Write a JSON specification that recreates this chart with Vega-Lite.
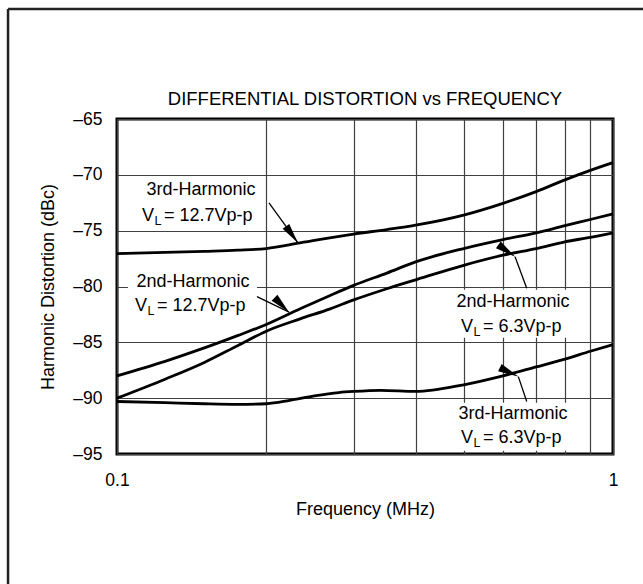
{
  "$schema": "https://vega.github.io/schema/vega-lite/v6.json",
  "width": 496,
  "height": 335,
  "autosize": {"type": "none"},
  "padding": {"left": 117, "top": 119, "right": 30, "bottom": 130},
  "background": "white",
  "title": {
    "text": "DIFFERENTIAL DISTORTION vs FREQUENCY",
    "fontSize": 18.5,
    "fontWeight": "normal",
    "font": "Liberation Sans",
    "color": "black",
    "anchor": "middle",
    "frame": "group",
    "baseline": "alphabetic",
    "offset": 0,
    "dy": 116
  },
  "config": {
    "font": "Liberation Sans",
    "view": {"stroke": "black", "strokeWidth": 3}
  },
  "datasets": {
    "curves": [
      {"s": "A", "f": 0.1, "db": -77.05}, {"s": "A", "f": 0.125, "db": -76.95}, {"s": "A", "f": 0.15, "db": -76.85},
      {"s": "A", "f": 0.175, "db": -76.75}, {"s": "A", "f": 0.2, "db": -76.6}, {"s": "A", "f": 0.234, "db": -76.1},
      {"s": "A", "f": 0.3, "db": -75.3}, {"s": "A", "f": 0.35, "db": -74.9}, {"s": "A", "f": 0.4, "db": -74.5},
      {"s": "A", "f": 0.5, "db": -73.6}, {"s": "A", "f": 0.6, "db": -72.55}, {"s": "A", "f": 0.7, "db": -71.5},
      {"s": "A", "f": 0.8, "db": -70.45}, {"s": "A", "f": 0.9, "db": -69.6}, {"s": "A", "f": 1.0, "db": -68.9},
      {"s": "B", "f": 0.1, "db": -88.0}, {"s": "B", "f": 0.125, "db": -86.7}, {"s": "B", "f": 0.15, "db": -85.5},
      {"s": "B", "f": 0.175, "db": -84.4}, {"s": "B", "f": 0.2, "db": -83.4}, {"s": "B", "f": 0.234, "db": -82.0},
      {"s": "B", "f": 0.269, "db": -80.8}, {"s": "B", "f": 0.3, "db": -79.9}, {"s": "B", "f": 0.35, "db": -78.8},
      {"s": "B", "f": 0.4, "db": -77.8}, {"s": "B", "f": 0.5, "db": -76.6}, {"s": "B", "f": 0.6, "db": -75.8},
      {"s": "B", "f": 0.7, "db": -75.2}, {"s": "B", "f": 0.8, "db": -74.55}, {"s": "B", "f": 0.9, "db": -74.0},
      {"s": "B", "f": 1.0, "db": -73.5},
      {"s": "C", "f": 0.1, "db": -90.0}, {"s": "C", "f": 0.125, "db": -88.3}, {"s": "C", "f": 0.15, "db": -86.8},
      {"s": "C", "f": 0.175, "db": -85.3}, {"s": "C", "f": 0.2, "db": -84.0}, {"s": "C", "f": 0.234, "db": -82.9},
      {"s": "C", "f": 0.269, "db": -82.0}, {"s": "C", "f": 0.3, "db": -81.2}, {"s": "C", "f": 0.35, "db": -80.2},
      {"s": "C", "f": 0.4, "db": -79.4}, {"s": "C", "f": 0.5, "db": -78.1}, {"s": "C", "f": 0.6, "db": -77.2},
      {"s": "C", "f": 0.7, "db": -76.6}, {"s": "C", "f": 0.8, "db": -76.0}, {"s": "C", "f": 0.9, "db": -75.6},
      {"s": "C", "f": 1.0, "db": -75.2},
      {"s": "D", "f": 0.1, "db": -90.3}, {"s": "D", "f": 0.125, "db": -90.4}, {"s": "D", "f": 0.15, "db": -90.5},
      {"s": "D", "f": 0.175, "db": -90.55}, {"s": "D", "f": 0.2, "db": -90.5}, {"s": "D", "f": 0.223, "db": -90.2},
      {"s": "D", "f": 0.25, "db": -89.8}, {"s": "D", "f": 0.28, "db": -89.5}, {"s": "D", "f": 0.3, "db": -89.4},
      {"s": "D", "f": 0.34, "db": -89.3}, {"s": "D", "f": 0.4, "db": -89.4}, {"s": "D", "f": 0.5, "db": -88.8},
      {"s": "D", "f": 0.6, "db": -88.0}, {"s": "D", "f": 0.7, "db": -87.2}, {"s": "D", "f": 0.8, "db": -86.5},
      {"s": "D", "f": 0.9, "db": -85.8}, {"s": "D", "f": 1.0, "db": -85.2}
    ],
    "masks": [
      {"f": 0.1052, "f2": 0.1915, "db": -79.3, "db2": -82.6},
      {"f": 0.4736, "f2": 0.8266, "db": -80.3, "db2": -84.6},
      {"f": 0.4736, "f2": 0.8266, "db": -90.4, "db2": -94.7}
    ],
    "frame": [
      {"f": 0.0603, "f2": 0.0603, "db": -55.15, "db2": -107.5},
      {"f": 0.0603, "f2": 1.2, "db": -55.15, "db2": -55.15}
    ],
    "arrows": [
      {"id": "a1", "f": 0.2317, "db": -76.1, "f2": 0.2025, "db2": -72.52},
      {"id": "a2", "f": 0.2223, "db": -82.3, "f2": 0.1915, "db2": -80.9},
      {"id": "a3", "f": 0.6346, "db": -77.33, "f2": 0.67, "db2": -80.16},
      {"id": "a4", "f": 0.6443, "db": -88.07, "f2": 0.67, "db2": -90.3}
    ],
    "labels1": [
      {"f": 0.1477, "db": -71.8, "t": "3rd-Harmonic"},
      {"f": 0.1423, "db": -80.01, "t": "2nd-Harmonic"},
      {"f": 0.6286, "db": -81.86, "t": "2nd-Harmonic"},
      {"f": 0.6286, "db": -91.88, "t": "3rd-Harmonic"}
    ],
    "labels2": [
      {"f": 0.1123, "db": -74.13, "post": "= 12.7Vp-p"},
      {"f": 0.1087, "db": -82.23, "post": "= 12.7Vp-p"},
      {"f": 0.4937, "db": -84.04, "post": "= 6.3Vp-p"},
      {"f": 0.4937, "db": -94.03, "post": "= 6.3Vp-p"}
    ]
  },
  "encoding": {
    "x": {
      "field": "f",
      "type": "quantitative",
      "scale": {"type": "log", "domain": [0.1, 1], "nice": false},
      "axis": {
        "title": "Frequency (MHz)",
        "values": [0.1, 0.2, 0.3, 0.4, 0.5, 0.6, 0.7, 0.8, 0.9, 1],
        "labelExpr": "datum.value == 0.1 ? '0.1' : (datum.value == 1 ? '1' : '')",
        "grid": true,
        "gridColor": "#404040",
        "gridWidth": 1.2,
        "ticks": false,
        "tickSize": 0,
        "domain": false,
        "labelFontSize": 17.5,
        "labelColor": "black",
        "labelPadding": 17,
        "labelFont": "Liberation Sans",
        "labelOverlap": false,
        "labelFlush": false,
        "titleFont": "Liberation Sans",
        "titleFontSize": 18,
        "titleFontWeight": "normal",
        "titleColor": "black",
        "titlePadding": 12
      }
    },
    "y": {
      "field": "db",
      "type": "quantitative",
      "scale": {"domain": [-95, -65], "nice": false, "zero": false},
      "axis": {
        "title": "Harmonic Distortion (dBc)",
        "values": [-95, -90, -85, -80, -75, -70, -65],
        "labelExpr": "datum.value < 0 ? '–' + abs(datum.value) : datum.label",
        "grid": true,
        "gridColor": "#404040",
        "gridWidth": 1.2,
        "ticks": false,
        "tickSize": 0,
        "domain": false,
        "labelFontSize": 17.5,
        "labelColor": "black",
        "labelPadding": 15,
        "labelFont": "Liberation Sans",
        "labelOverlap": false,
        "labelFlush": false,
        "titleFont": "Liberation Sans",
        "titleFontSize": 18,
        "titleFontWeight": "normal",
        "titleColor": "black",
        "titlePadding": 15
      }
    }
  },
  "layer": [
    {
      "data": {"name": "masks"},
      "mark": {"type": "rect", "fill": "white", "stroke": null},
      "encoding": {"x2": {"field": "f2"}, "y2": {"field": "db2"}}
    },
    {
      "data": {"name": "frame"},
      "mark": {"type": "rule", "color": "#222222", "strokeWidth": 2.5, "clip": false},
      "encoding": {"x2": {"field": "f2"}, "y2": {"field": "db2"}}
    },
    {
      "data": {"name": "curves"},
      "mark": {"type": "line", "color": "black", "strokeWidth": 2.8, "interpolate": "monotone"},
      "encoding": {"detail": {"field": "s", "type": "nominal"}}
    },
    {
      "data": {"name": "arrows"},
      "mark": {"type": "rule", "color": "black", "strokeWidth": 1.3},
      "encoding": {"x2": {"field": "f2"}, "y2": {"field": "db2"}}
    },
    {
      "data": {"name": "arrows"},
      "mark": {"type": "point", "shape": "M0,0L0.4,2L-0.4,2Z", "filled": true, "color": "black", "opacity": 1, "size": 420, "strokeWidth": 0},
      "encoding": {
        "angle": {"field": "id", "type": "nominal", "scale": {"domain": ["a1", "a2", "a3", "a4"], "range": [144, 116, 340, 341]}, "legend": null}
      }
    },
    {
      "data": {"name": "labels1"},
      "mark": {"type": "text", "align": "center", "baseline": "alphabetic", "fontSize": 18, "color": "black"},
      "encoding": {"text": {"field": "t"}}
    },
    {
      "data": {"name": "labels2"},
      "mark": {"type": "text", "text": "V", "align": "left", "baseline": "alphabetic", "fontSize": 18, "color": "black"}
    },
    {
      "data": {"name": "labels2"},
      "mark": {"type": "text", "text": "L", "align": "left", "baseline": "alphabetic", "fontSize": 12.5, "dx": 12.5, "dy": 4, "color": "black"}
    },
    {
      "data": {"name": "labels2"},
      "mark": {"type": "text", "align": "left", "baseline": "alphabetic", "fontSize": 18, "dx": 22, "color": "black"},
      "encoding": {"text": {"field": "post"}}
    }
  ]
}
